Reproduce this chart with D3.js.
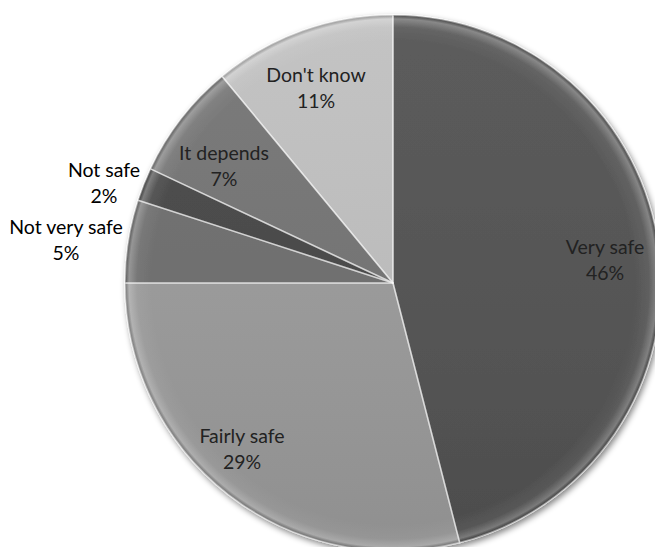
<!DOCTYPE html>
<html>
<head>
<meta charset="utf-8">
<script src="https://cdn.jsdelivr.net/npm/d3@7"></script>
<style>
  html, body { margin: 0; padding: 0; background: #fff; }
  svg { display: block; }
</style>
</head>
<body>
<svg id="chart" width="655" height="547"></svg>
<script>
const categories = ["Very safe", "Fairly safe", "Not very safe", "Not safe", "It depends", "Don't know"];
const values = [46, 29, 5, 2, 7, 11];
const labels = ["46%", "29%", "5%", "2%", "7%", "11%"];
const colors = ["#535353", "#9c9c9c", "#6e6e6e", "#474747", "#747474", "#c0c0c0"];

const W = 655, H = 547;
const cx = 393, cy = 283, R = 268;

const svg = d3.select("#chart");
const defs = svg.append("defs");

const shadow = defs.append("filter").attr("id", "shadow")
  .attr("x", "-10%").attr("y", "-10%").attr("width", "120%").attr("height", "120%");
shadow.append("feGaussianBlur").attr("in", "SourceAlpha").attr("stdDeviation", 3).attr("result", "b");
shadow.append("feOffset").attr("in", "b").attr("dx", 2).attr("dy", 3).attr("result", "o");
shadow.append("feComponentTransfer").attr("in", "o").attr("result", "s")
  .append("feFuncA").attr("type", "linear").attr("slope", 0.5);
const merge = shadow.append("feMerge");
merge.append("feMergeNode").attr("in", "s");
merge.append("feMergeNode").attr("in", "SourceGraphic");

const rim = defs.append("radialGradient").attr("id", "rim")
  .attr("gradientUnits", "userSpaceOnUse")
  .attr("cx", 0).attr("cy", 0).attr("r", R);
rim.append("stop").attr("offset", "0.90").attr("stop-color", "#fff").attr("stop-opacity", 0);
rim.append("stop").attr("offset", "0.955").attr("stop-color", "#fff").attr("stop-opacity", 0.06);
rim.append("stop").attr("offset", "0.985").attr("stop-color", "#fff").attr("stop-opacity", 0.28);
rim.append("stop").attr("offset", "1").attr("stop-color", "#000").attr("stop-opacity", 0.25);

const vert = defs.append("linearGradient").attr("id", "vert")
  .attr("gradientUnits", "userSpaceOnUse")
  .attr("x1", 0).attr("y1", -R).attr("x2", 0).attr("y2", R);
vert.append("stop").attr("offset", "0").attr("stop-color", "#fff").attr("stop-opacity", 0.05);
vert.append("stop").attr("offset", "1").attr("stop-color", "#000").attr("stop-opacity", 0.08);

const pie = d3.pie().sort(null).value(d => d.v);
const data = pie(categories.map((c, i) => ({ c, v: values[i], l: labels[i], col: colors[i] })));
const arc = d3.arc().innerRadius(0).outerRadius(R);

const g = svg.append("g").attr("transform", `translate(${cx},${cy})`);
const pg = g.append("g").attr("filter", "url(#shadow)");

pg.selectAll("path.slice").data(data).join("path")
  .attr("class", "slice")
  .attr("d", arc)
  .attr("fill", d => d.data.col);

pg.selectAll("path.rim").data(data).join("path")
  .attr("class", "rim")
  .attr("d", arc)
  .attr("fill", "url(#rim)");

pg.selectAll("path.vert").data(data).join("path")
  .attr("class", "vert")
  .attr("d", arc)
  .attr("fill", "url(#vert)")
  .attr("stroke", "rgba(255,255,255,0.45)")
  .attr("stroke-width", 1.6)
  .attr("stroke-linejoin", "round");

// label positions (first-line baseline, relative to pie centre)
const labelPos = [
  { x: 212, y: -29, color: "#222" },   // Very safe
  { x: -151, y: 160, color: "#222" },  // Fairly safe
  { x: -327, y: -49, color: "#000" },  // Not very safe
  { x: -289, y: -106, color: "#000" }, // Not safe
  { x: -169, y: -123, color: "#222" }, // It depends
  { x: -77, y: -201, color: "#222" }   // Don't know
];

const lg = g.append("g")
  .style("font-family", "Lato, 'Open Sans', sans-serif")
  .style("font-size", "19.5px");

data.forEach((d, i) => {
  const p = labelPos[i];
  const t = lg.append("text")
    .attr("x", p.x).attr("y", p.y)
    .attr("text-anchor", "middle")
    .attr("fill", p.color);
  t.append("tspan").attr("x", p.x).attr("dy", 0).text(d.data.c);
  t.append("tspan").attr("x", p.x).attr("dy", 26).text(d.data.l);
});
</script>
</body>
</html>
